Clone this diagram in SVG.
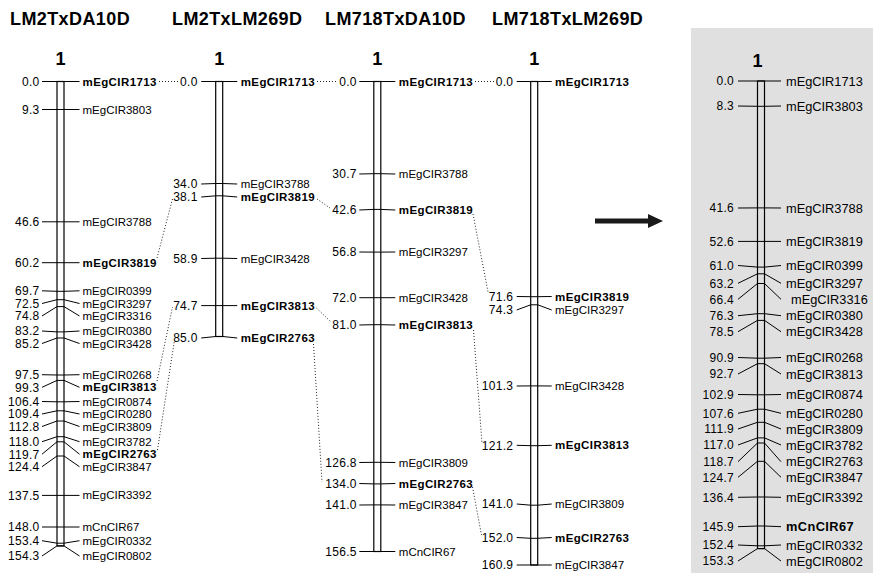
<svg xmlns="http://www.w3.org/2000/svg" width="873" height="573" viewBox="0 0 873 573">
<style>
text{font-family:"Liberation Sans",Arial,sans-serif;fill:#000}
.title{font-size:18px;font-weight:bold;letter-spacing:0.4px}
.lg{font-size:18px;font-weight:bold;text-anchor:middle}
.num{font-size:12px;text-anchor:end;letter-spacing:0.3px}
.nm{font-size:11.5px}
.nm5{font-size:12.8px}
.b{font-weight:bold;letter-spacing:0.4px}
.bar{fill:#fff;stroke:#000;stroke-width:1.2}
.bar5{fill:none;stroke:#000;stroke-width:1.2}
.tk{fill:none;stroke:#000;stroke-width:1}
.dot{fill:none;stroke:#222;stroke-width:1;stroke-dasharray:1 2}
</style>
<rect x="691" y="28" width="182" height="545" fill="#e0e0e0"/>

<g id="map-LM2TxDA10D">
<text class="title" x="10" y="25">LM2TxDA10D</text>
<text class="lg" x="60.5" y="65">1</text>
<rect class="bar" x="57" y="81.5" width="7" height="464.4"/>
<polyline class="tk" points="42,81.5 57,81.5 64,81.5 79.5,81.5"/>
<polyline class="tk" points="42,109.5 57,109.5 64,109.5 79.5,109.5"/>
<polyline class="tk" points="42,221.8 57,221.8 64,221.8 79.5,221.8"/>
<polyline class="tk" points="42,262.7 57,262.7 64,262.7 79.5,262.7"/>
<polyline class="tk" points="42,290.8 57,291.3 64,291.3 79.5,290.8"/>
<polyline class="tk" points="42,303.5 57,299.7 64,299.7 79.5,303.5"/>
<polyline class="tk" points="42,316 57,306.6 64,306.6 79.5,316"/>
<polyline class="tk" points="42,331 57,331.9 64,331.9 79.5,331"/>
<polyline class="tk" points="42,343.5 57,338 64,338 79.5,343.5"/>
<polyline class="tk" points="42,374.7 57,375 64,375 79.5,374.7"/>
<polyline class="tk" points="42,387.3 57,380.4 64,380.4 79.5,387.3"/>
<polyline class="tk" points="42,401.5 57,401.8 64,401.8 79.5,401.5"/>
<polyline class="tk" points="42,414 57,410.8 64,410.8 79.5,414"/>
<polyline class="tk" points="42,426.5 57,421 64,421 79.5,426.5"/>
<polyline class="tk" points="42,441.7 57,436.7 64,436.7 79.5,441.7"/>
<polyline class="tk" points="42,454.2 57,441.8 64,441.8 79.5,454.2"/>
<polyline class="tk" points="42,466.7 57,456 64,456 79.5,466.7"/>
<polyline class="tk" points="42,495.4 57,495.4 64,495.4 79.5,495.4"/>
<polyline class="tk" points="42,527 57,527 64,527 79.5,527"/>
<polyline class="tk" points="42,540.7 57,543.2 64,543.2 79.5,540.7"/>
<polyline class="tk" points="42,556 57,545.9 64,545.9 79.5,556"/>
<text class="num" x="39.5" y="85.8">0.0</text>
<text class="num" x="39.5" y="113.8">9.3</text>
<text class="num" x="39.5" y="226.1">46.6</text>
<text class="num" x="39.5" y="267">60.2</text>
<text class="num" x="39.5" y="295.1">69.7</text>
<text class="num" x="39.5" y="307.8">72.5</text>
<text class="num" x="39.5" y="320.3">74.8</text>
<text class="num" x="39.5" y="335.3">83.2</text>
<text class="num" x="39.5" y="347.8">85.2</text>
<text class="num" x="39.5" y="379">97.5</text>
<text class="num" x="39.5" y="391.6">99.3</text>
<text class="num" x="39.5" y="405.8">106.4</text>
<text class="num" x="39.5" y="418.3">109.4</text>
<text class="num" x="39.5" y="430.8">112.8</text>
<text class="num" x="39.5" y="446">118.0</text>
<text class="num" x="39.5" y="458.5">119.7</text>
<text class="num" x="39.5" y="471">124.4</text>
<text class="num" x="39.5" y="499.7">137.5</text>
<text class="num" x="39.5" y="531.3">148.0</text>
<text class="num" x="39.5" y="545">153.4</text>
<text class="num" x="39.5" y="560.3">154.3</text>
<text class="nm b" x="82.5" y="85.5">mEgCIR1713</text>
<text class="nm" x="82.5" y="113.5">mEgCIR3803</text>
<text class="nm" x="82.5" y="225.8">mEgCIR3788</text>
<text class="nm b" x="82.5" y="266.7">mEgCIR3819</text>
<text class="nm" x="82.5" y="294.8">mEgCIR0399</text>
<text class="nm" x="82.5" y="307.5">mEgCIR3297</text>
<text class="nm" x="82.5" y="320">mEgCIR3316</text>
<text class="nm" x="82.5" y="335">mEgCIR0380</text>
<text class="nm" x="82.5" y="347.5">mEgCIR3428</text>
<text class="nm" x="82.5" y="378.7">mEgCIR0268</text>
<text class="nm b" x="82.5" y="391.3">mEgCIR3813</text>
<text class="nm" x="82.5" y="405.5">mEgCIR0874</text>
<text class="nm" x="82.5" y="418">mEgCIR0280</text>
<text class="nm" x="82.5" y="430.5">mEgCIR3809</text>
<text class="nm" x="82.5" y="445.7">mEgCIR3782</text>
<text class="nm b" x="82.5" y="458.2">mEgCIR2763</text>
<text class="nm" x="82.5" y="470.7">mEgCIR3847</text>
<text class="nm" x="82.5" y="499.4">mEgCIR3392</text>
<text class="nm" x="82.5" y="531">mCnCIR67</text>
<text class="nm" x="82.5" y="544.7">mEgCIR0332</text>
<text class="nm" x="82.5" y="560">mEgCIR0802</text>
</g>

<g id="map-LM2TxLM269D">
<text class="title" x="172" y="25">LM2TxLM269D</text>
<text class="lg" x="219.2" y="65">1</text>
<rect class="bar" x="215.7" y="81.5" width="7" height="255"/>
<polyline class="tk" points="201.2,81.5 215.7,81.5 222.7,81.5 237.2,81.5"/>
<polyline class="tk" points="201.2,184 215.7,183.5 222.7,183.5 237.2,184"/>
<polyline class="tk" points="201.2,197 215.7,195.8 222.7,195.8 237.2,197"/>
<polyline class="tk" points="201.2,258.5 215.7,258.2 222.7,258.2 237.2,258.5"/>
<polyline class="tk" points="201.2,305.6 215.7,305.6 222.7,305.6 237.2,305.6"/>
<polyline class="tk" points="201.2,338 215.7,336.5 222.7,336.5 237.2,338"/>
<text class="num" x="197.7" y="85.8">0.0</text>
<text class="num" x="197.7" y="188.3">34.0</text>
<text class="num" x="197.7" y="201.3">38.1</text>
<text class="num" x="197.7" y="262.8">58.9</text>
<text class="num" x="197.7" y="309.9">74.7</text>
<text class="num" x="197.7" y="342.3">85.0</text>
<text class="nm b" x="240.7" y="85.5">mEgCIR1713</text>
<text class="nm" x="240.7" y="188">mEgCIR3788</text>
<text class="nm b" x="240.7" y="201">mEgCIR3819</text>
<text class="nm" x="240.7" y="262.5">mEgCIR3428</text>
<text class="nm b" x="240.7" y="309.6">mEgCIR3813</text>
<text class="nm b" x="240.7" y="342">mEgCIR2763</text>
</g>

<g id="map-LM718TxDA10D">
<text class="title" x="325" y="25">LM718TxDA10D</text>
<text class="lg" x="377.3" y="65">1</text>
<rect class="bar" x="373.8" y="81.5" width="7" height="470"/>
<polyline class="tk" points="359.3,81.5 373.8,81.5 380.8,81.5 395.3,81.5"/>
<polyline class="tk" points="359.3,174 373.8,173.7 380.8,173.7 395.3,174"/>
<polyline class="tk" points="359.3,210 373.8,209.4 380.8,209.4 395.3,210"/>
<polyline class="tk" points="359.3,252 373.8,252.1 380.8,252.1 395.3,252"/>
<polyline class="tk" points="359.3,297.7 373.8,297.7 380.8,297.7 395.3,297.7"/>
<polyline class="tk" points="359.3,325 373.8,324.7 380.8,324.7 395.3,325"/>
<polyline class="tk" points="359.3,462.5 373.8,462.3 380.8,462.3 395.3,462.5"/>
<polyline class="tk" points="359.3,483.5 373.8,483.9 380.8,483.9 395.3,483.5"/>
<polyline class="tk" points="359.3,505 373.8,504.9 380.8,504.9 395.3,505"/>
<polyline class="tk" points="359.3,551.5 373.8,551.5 380.8,551.5 395.3,551.5"/>
<text class="num" x="356.8" y="85.8">0.0</text>
<text class="num" x="356.8" y="178.3">30.7</text>
<text class="num" x="356.8" y="214.3">42.6</text>
<text class="num" x="356.8" y="256.3">56.8</text>
<text class="num" x="356.8" y="302">72.0</text>
<text class="num" x="356.8" y="329.3">81.0</text>
<text class="num" x="356.8" y="466.8">126.8</text>
<text class="num" x="356.8" y="487.8">134.0</text>
<text class="num" x="356.8" y="509.3">141.0</text>
<text class="num" x="356.8" y="555.8">156.5</text>
<text class="nm b" x="398.8" y="85.5">mEgCIR1713</text>
<text class="nm" x="398.8" y="178">mEgCIR3788</text>
<text class="nm b" x="398.8" y="214">mEgCIR3819</text>
<text class="nm" x="398.8" y="256">mEgCIR3297</text>
<text class="nm" x="398.8" y="301.7">mEgCIR3428</text>
<text class="nm b" x="398.8" y="329">mEgCIR3813</text>
<text class="nm" x="398.8" y="466.5">mEgCIR3809</text>
<text class="nm b" x="398.8" y="487.5">mEgCIR2763</text>
<text class="nm" x="398.8" y="509">mEgCIR3847</text>
<text class="nm" x="398.8" y="555.5">mCnCIR67</text>
</g>

<g id="map-LM718TxLM269D">
<text class="title" x="492" y="25">LM718TxLM269D</text>
<text class="lg" x="534.2" y="65">1</text>
<rect class="bar" x="530.7" y="81.5" width="7" height="483.5"/>
<polyline class="tk" points="516.7,81.5 530.7,81.5 537.7,81.5 551.7,81.5"/>
<polyline class="tk" points="516.7,296.5 530.7,296.7 537.7,296.7 551.7,296.5"/>
<polyline class="tk" points="516.7,310 530.7,304.8 537.7,304.8 551.7,310"/>
<polyline class="tk" points="516.7,386 530.7,385.9 537.7,385.9 551.7,386"/>
<polyline class="tk" points="516.7,445.3 530.7,445.7 537.7,445.7 551.7,445.3"/>
<polyline class="tk" points="516.7,504 530.7,505.2 537.7,505.2 551.7,504"/>
<polyline class="tk" points="516.7,537.5 530.7,538.3 537.7,538.3 551.7,537.5"/>
<polyline class="tk" points="516.7,565 530.7,565 537.7,565 551.7,565"/>
<text class="num" x="513.3" y="85.8">0.0</text>
<text class="num" x="513.3" y="300.8">71.6</text>
<text class="num" x="513.3" y="314.3">74.3</text>
<text class="num" x="513.3" y="390.3">101.3</text>
<text class="num" x="513.3" y="449.6">121.2</text>
<text class="num" x="513.3" y="508.3">141.0</text>
<text class="num" x="513.3" y="541.8">152.0</text>
<text class="num" x="513.3" y="569.3">160.9</text>
<text class="nm b" x="555" y="85.5">mEgCIR1713</text>
<text class="nm b" x="555" y="300.5">mEgCIR3819</text>
<text class="nm" x="555" y="314">mEgCIR3297</text>
<text class="nm" x="555" y="390">mEgCIR3428</text>
<text class="nm b" x="555" y="449.3">mEgCIR3813</text>
<text class="nm" x="555" y="508">mEgCIR3809</text>
<text class="nm b" x="555" y="541.5">mEgCIR2763</text>
<text class="nm" x="555" y="569">mEgCIR3847</text>
</g>

<g id="arrow">
<path d="M595,218.5 H648 V214 L663,221 L648,228 V223.5 H595 Z" fill="#1a1a1a"/>
</g>

<g id="map-consensus">
<text class="lg" x="757.5" y="67">1</text>
<rect class="bar5" x="757.5" y="81" width="7" height="467.6"/>
<polyline class="tk" points="738,81 757.5,81 764.5,81 781,81"/>
<polyline class="tk" points="738,106 757.5,106.3 764.5,106.3 781,106"/>
<polyline class="tk" points="738,208 757.5,207.9 764.5,207.9 781,208"/>
<polyline class="tk" points="738,241.4 757.5,241.4 764.5,241.4 781,241.4"/>
<polyline class="tk" points="738,265.5 757.5,267.1 764.5,267.1 781,265.5"/>
<polyline class="tk" points="738,283.3 757.5,273.8 764.5,273.8 781,283.3"/>
<polyline class="tk" points="738,299.3 757.5,283.5 764.5,283.5 781,299.3"/>
<polyline class="tk" points="738,315.7 757.5,313.7 764.5,313.7 781,315.7"/>
<polyline class="tk" points="738,331.7 757.5,320.4 764.5,320.4 781,331.7"/>
<polyline class="tk" points="738,357.5 757.5,358.2 764.5,358.2 781,357.5"/>
<polyline class="tk" points="738,374 757.5,363.7 764.5,363.7 781,374"/>
<polyline class="tk" points="738,394.5 757.5,394.8 764.5,394.8 781,394.5"/>
<polyline class="tk" points="738,413.3 757.5,409.2 764.5,409.2 781,413.3"/>
<polyline class="tk" points="738,429 757.5,422.3 764.5,422.3 781,429"/>
<polyline class="tk" points="738,445 757.5,437.9 764.5,437.9 781,445"/>
<polyline class="tk" points="738,461.7 757.5,443 764.5,443 781,461.7"/>
<polyline class="tk" points="738,477.3 757.5,461.3 764.5,461.3 781,477.3"/>
<polyline class="tk" points="738,497.3 757.5,497 764.5,497 781,497.3"/>
<polyline class="tk" points="738,526.7 757.5,526 764.5,526 781,526.7"/>
<polyline class="tk" points="738,545 757.5,545.8 764.5,545.8 781,545"/>
<polyline class="tk" points="738,561 757.5,548.6 764.5,548.6 781,561"/>
<text class="num" x="734" y="85.3">0.0</text>
<text class="num" x="734" y="110.3">8.3</text>
<text class="num" x="734" y="212.3">41.6</text>
<text class="num" x="734" y="245.7">52.6</text>
<text class="num" x="734" y="269.8">61.0</text>
<text class="num" x="734" y="287.6">63.2</text>
<text class="num" x="734" y="303.6">66.4</text>
<text class="num" x="734" y="320">76.3</text>
<text class="num" x="734" y="336">78.5</text>
<text class="num" x="734" y="361.8">90.9</text>
<text class="num" x="734" y="378.3">92.7</text>
<text class="num" x="734" y="398.8">102.9</text>
<text class="num" x="734" y="417.6">107.6</text>
<text class="num" x="734" y="433.3">111.9</text>
<text class="num" x="734" y="449.3">117.0</text>
<text class="num" x="734" y="466">118.7</text>
<text class="num" x="734" y="481.6">124.7</text>
<text class="num" x="734" y="501.6">136.4</text>
<text class="num" x="734" y="531">145.9</text>
<text class="num" x="734" y="549.3">152.4</text>
<text class="num" x="734" y="565.3">153.3</text>
<text class="nm5" x="786" y="85.5">mEgCIR1713</text>
<text class="nm5" x="786" y="110.5">mEgCIR3803</text>
<text class="nm5" x="786" y="212.5">mEgCIR3788</text>
<text class="nm5" x="786" y="245.9">mEgCIR3819</text>
<text class="nm5" x="786" y="270">mEgCIR0399</text>
<text class="nm5" x="786" y="287.8">mEgCIR3297</text>
<text class="nm5" x="791" y="303.8">mEgCIR3316</text>
<text class="nm5" x="786" y="320.2">mEgCIR0380</text>
<text class="nm5" x="786" y="336.2">mEgCIR3428</text>
<text class="nm5" x="786" y="362">mEgCIR0268</text>
<text class="nm5" x="786" y="378.5">mEgCIR3813</text>
<text class="nm5" x="786" y="399">mEgCIR0874</text>
<text class="nm5" x="786" y="417.8">mEgCIR0280</text>
<text class="nm5" x="786" y="433.5">mEgCIR3809</text>
<text class="nm5" x="786" y="449.5">mEgCIR3782</text>
<text class="nm5" x="786" y="466.2">mEgCIR2763</text>
<text class="nm5" x="786" y="481.8">mEgCIR3847</text>
<text class="nm5" x="786" y="501.8">mEgCIR3392</text>
<text class="nm5 b" x="786" y="531.2">mCnCIR67</text>
<text class="nm5" x="786" y="549.5">mEgCIR0332</text>
<text class="nm5" x="786" y="565.5">mEgCIR0802</text>
</g>

<g id="connectors">
<line class="dot" x1="159" y1="81.5" x2="179" y2="81.5"/>
<line class="dot" x1="317" y1="81.5" x2="338" y2="81.5"/>
<line class="dot" x1="475" y1="81.5" x2="494" y2="81.5"/>
<line class="dot" x1="157" y1="258" x2="172.5" y2="199"/>
<line class="dot" x1="317" y1="199" x2="330" y2="208"/>
<line class="dot" x1="473" y1="214" x2="488" y2="292"/>
<line class="dot" x1="157" y1="381" x2="172.5" y2="307"/>
<line class="dot" x1="157.5" y1="450" x2="174.5" y2="340"/>
<line class="dot" x1="316.5" y1="308" x2="331" y2="322"/>
<line class="dot" x1="313.5" y1="344" x2="322" y2="482"/>
<line class="dot" x1="473.5" y1="330" x2="482" y2="443"/>
<line class="dot" x1="472.5" y1="487" x2="481.5" y2="535"/>
</g>
</svg>
